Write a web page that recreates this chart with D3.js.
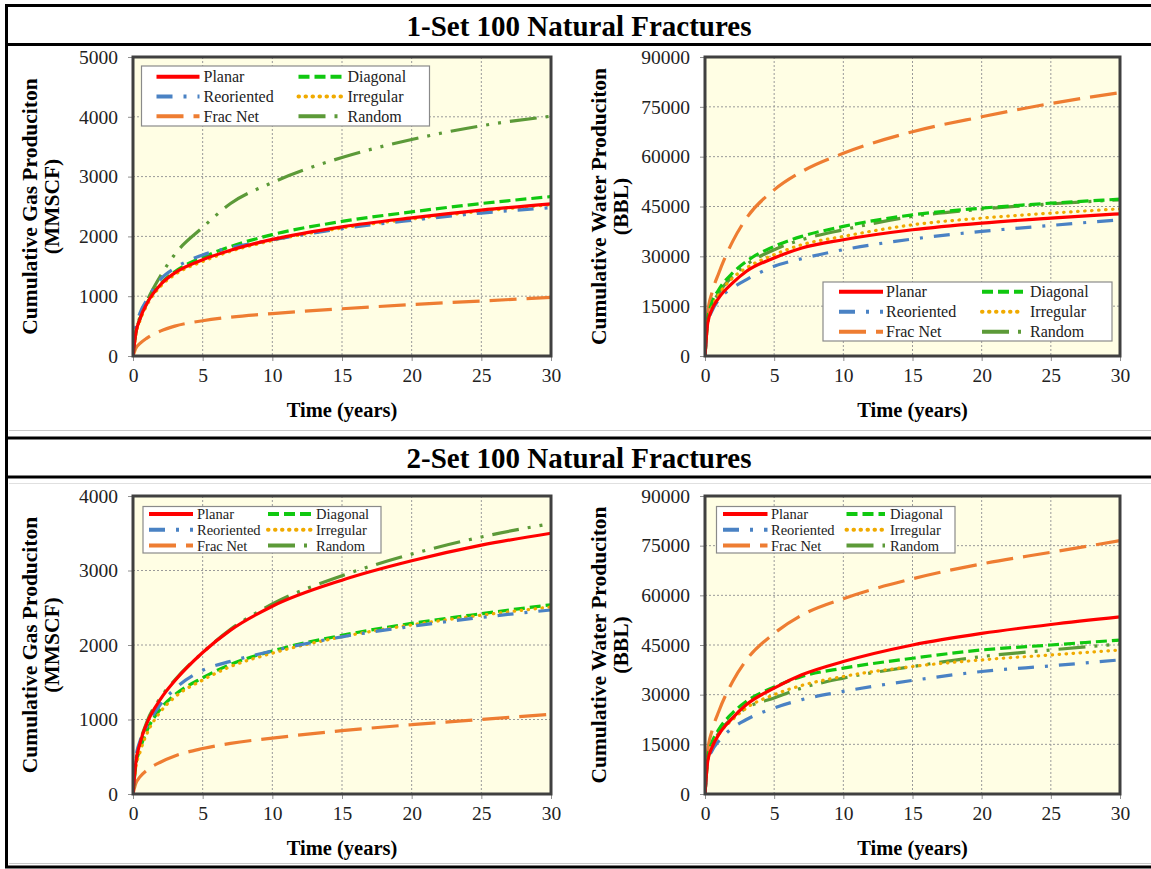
<!DOCTYPE html>
<html><head><meta charset="utf-8">
<script src="https://cdn.jsdelivr.net/npm/d3@7"></script>
<style>
body{margin:0;background:#fff;}
svg{display:block;}
svg text{font-family:"Liberation Serif","Times New Roman",serif;}
</style>
</head><body>
<svg id="c" width="1151" height="869"></svg>
<script>
// ---------- DATA ----------
const timeYears = [0, 0.2, 0.5, 1, 2, 3, 5, 7, 10, 15, 20, 25, 30];
const xTicks = [0, 5, 10, 15, 20, 25, 30];
const seriesNames = ["Planar", "Diagonal", "Reoriented", "Irregular", "Frac Net", "Random"];
const sectionTitles = ["1-Set 100 Natural Fractures", "2-Set 100 Natural Fractures"];
const gasTicks1 = [0, 1000, 2000, 3000, 4000, 5000];
const gasTicks2 = [0, 1000, 2000, 3000, 4000];
const waterTicks = [0, 15000, 30000, 45000, 60000, 75000, 90000];

// 1-Set gas (MMSCF)
const gas1Planar     = [0, 380, 620, 880, 1200, 1390, 1610, 1770, 1950, 2160, 2310, 2440, 2545];
const gas1Diagonal   = [0, 380, 620, 880, 1210, 1410, 1650, 1830, 2030, 2250, 2410, 2550, 2665];
const gas1Reoriented = [0, 470, 720, 940, 1290, 1470, 1690, 1810, 1940, 2130, 2270, 2390, 2480];
const gas1Irregular  = [0, 350, 590, 850, 1170, 1360, 1580, 1750, 1930, 2140, 2290, 2420, 2530];
const gas1FracNet    = [0, 130, 210, 300, 420, 500, 590, 650, 710, 790, 860, 920, 980];
const gas1Random     = [0, 400, 650, 920, 1350, 1700, 2150, 2550, 2900, 3320, 3620, 3850, 4010];

// 1-Set water (BBL)
const water1Planar     = [0, 10000, 14000, 17500, 22000, 25500, 29500, 32500, 35000, 38000, 40000, 41500, 42800];
const water1Diagonal   = [0, 11000, 16000, 20000, 25000, 28500, 33000, 36000, 39000, 42500, 44500, 46000, 47200];
const water1Reoriented = [0, 10000, 13500, 17000, 20500, 23000, 27000, 29300, 32000, 35200, 37500, 39300, 41000];
const water1Irregular  = [0, 10000, 14500, 18500, 23500, 26500, 30500, 33500, 36000, 39500, 41500, 43000, 44300];
const water1FracNet    = [0, 13000, 19000, 25000, 34500, 41500, 50000, 55500, 61000, 67500, 72000, 76000, 79300];
const water1Random     = [0, 10500, 15000, 19000, 24000, 27500, 32000, 35000, 38000, 42000, 44200, 45800, 47000];

// 2-Set gas (MMSCF)
const gas2Planar     = [0, 420, 680, 950, 1280, 1520, 1900, 2200, 2520, 2870, 3130, 3340, 3500];
const gas2Diagonal   = [0, 380, 600, 850, 1150, 1330, 1560, 1740, 1920, 2130, 2290, 2420, 2540];
const gas2Reoriented = [0, 480, 710, 910, 1210, 1410, 1660, 1780, 1920, 2110, 2250, 2370, 2470];
const gas2Irregular  = [0, 350, 560, 810, 1110, 1300, 1530, 1710, 1890, 2110, 2270, 2400, 2510];
const gas2FracNet    = [0, 140, 230, 320, 430, 510, 610, 680, 750, 850, 930, 1000, 1070];
const gas2Random     = [0, 430, 690, 970, 1300, 1530, 1900, 2210, 2550, 2930, 3220, 3450, 3630];

// 2-Set water (BBL)
const water2Planar     = [0, 10000, 14000, 18000, 23000, 27000, 32000, 36000, 40000, 45000, 48500, 51200, 53500];
const water2Diagonal   = [0, 11000, 15500, 19500, 24500, 28000, 32300, 35500, 38000, 41000, 43500, 45000, 46500];
const water2Reoriented = [0, 10000, 13000, 16000, 20000, 22500, 26000, 28500, 31000, 34300, 37000, 38700, 40500];
const water2Irregular  = [0, 10000, 14000, 18000, 22500, 26000, 30000, 32800, 35500, 38500, 40500, 42000, 43500];
const water2FracNet    = [0, 13000, 19000, 25000, 34000, 40500, 48500, 54000, 59000, 65000, 69500, 73000, 76500];
const water2Random     = [0, 10000, 14500, 18500, 23000, 26000, 29000, 32000, 35000, 38500, 41500, 43500, 45300];

// ---------- STYLES ----------
const FONT = "Liberation Serif, Times New Roman, serif";
const seriesColor = {"Planar":"#ff0000","Diagonal":"#10c810","Reoriented":"#4a82c4","Irregular":"#f0aa00","Frac Net":"#ee7d32","Random":"#5c9a38"};
const seriesDash  = {"Planar":null,"Diagonal":"11,5","Reoriented":"16,11,3,11","Irregular":"0.5,6.5","Frac Net":"27,10","Random":"27,9,3,9,3,9"};
const seriesWidth = {"Planar":3.2,"Diagonal":3.2,"Reoriented":3.2,"Irregular":3.2,"Frac Net":3.2,"Random":3.2};

const panels = [
  {series:[gas1Planar,gas1Diagonal,gas1Reoriented,gas1Irregular,gas1FracNet,gas1Random], ticks:gasTicks1,
   r:{x:133,y:57,w:418,h:299}, t1:"Cumulative Gas Produciton", t2:"(MMSCF)", t1x:29, t2x:51, xty:410,
   lg:{x:141.5,y:66,w:288,h:60,r0:10.7,rh:19.8,l1:[15,58],tx1:62,l2:[157,201],tx2:206,fs:16}},
  {series:[water1Planar,water1Diagonal,water1Reoriented,water1Irregular,water1FracNet,water1Random], ticks:waterTicks,
   r:{x:705,y:57,w:415,h:299}, t1:"Cumulative Water Produciton", t2:"(BBL)", t1x:598, t2x:620, xty:410,
   lg:{x:823,y:282,w:289,h:59,r0:9.7,rh:20,l1:[16,60],tx1:63,l2:[159,200],tx2:207,fs:16}},
  {series:[gas2Planar,gas2Diagonal,gas2Reoriented,gas2Irregular,gas2FracNet,gas2Random], ticks:gasTicks2,
   r:{x:133,y:496,w:418,h:298}, t1:"Cumulative Gas Produciton", t2:"(MMSCF)", t1x:29, t2x:51, xty:848,
   lg:{x:143,y:506.5,w:238,h:46.5,r0:7.5,rh:15.8,l1:[6,50],tx1:54,l2:[125,169],tx2:173,fs:14.5}},
  {series:[water2Planar,water2Diagonal,water2Reoriented,water2Irregular,water2FracNet,water2Random], ticks:waterTicks,
   r:{x:705,y:496,w:415,h:298}, t1:"Cumulative Water Produciton", t2:"(BBL)", t1x:598, t2x:620, xty:848,
   lg:{x:716.5,y:506.5,w:238.5,h:46.5,r0:7.5,rh:15.8,l1:[6.5,51],tx1:54.5,l2:[130,168.5],tx2:173.5,fs:14.5}}
];

const svg = d3.select("#c");

// ---------- FRAMES / TITLES ----------
const frame = svg.append("g");
frame.append("rect").attr("x",6.5).attr("y",5.5).attr("width",1160).attr("height",39)
  .attr("fill","#fff").attr("stroke","#000").attr("stroke-width",3);
frame.append("rect").attr("x",6.5).attr("y",438).attr("width",1160).attr("height",39)
  .attr("fill","#fff").attr("stroke","#000").attr("stroke-width",3);
frame.append("line").attr("x1",6.5).attr("x2",6.5).attr("y1",44).attr("y2",438).attr("stroke","#000").attr("stroke-width",3);
frame.append("line").attr("x1",6.5).attr("x2",6.5).attr("y1",477).attr("y2",868).attr("stroke","#000").attr("stroke-width",3);
frame.append("line").attr("x1",5).attr("x2",1151).attr("y1",867).attr("y2",867).attr("stroke","#000").attr("stroke-width",3);
frame.append("line").attr("x1",9).attr("x2",1151).attr("y1",430.5).attr("y2",430.5).attr("stroke","#c8c8c8").attr("stroke-width",1);
frame.append("line").attr("x1",9).attr("x2",1151).attr("y1",483.5).attr("y2",483.5).attr("stroke","#e0e0e0").attr("stroke-width",1);
frame.append("line").attr("x1",9).attr("x2",1151).attr("y1",863.5).attr("y2",863.5).attr("stroke","#c8c8c8").attr("stroke-width",1);
[[25.5, sectionTitles[0]],[458, sectionTitles[1]]].forEach(([y,t])=>{
  frame.append("text").attr("x",579).attr("y",y).attr("dy","0.35em").attr("text-anchor","middle")
    .attr("font-size",29).attr("font-weight","bold").attr("fill","#000").text(t);
});

// ---------- PANELS ----------
panels.forEach((p,pi)=>{
  const g = svg.append("g");
  const x = d3.scaleLinear().domain([0,30]).range([p.r.x, p.r.x+p.r.w]);
  const yMax = p.ticks[p.ticks.length-1];
  const y = d3.scaleLinear().domain([0,yMax]).range([p.r.y+p.r.h, p.r.y]);

  g.append("rect").attr("x",p.r.x).attr("y",p.r.y).attr("width",p.r.w).attr("height",p.r.h).attr("fill","#fffee4");

  // grid
  g.selectAll(".gx").data(xTicks.slice(1,-1)).join("line")
    .attr("x1",d=>x(d)).attr("x2",d=>x(d)).attr("y1",p.r.y).attr("y2",p.r.y+p.r.h)
    .attr("stroke","#9a9a9a").attr("stroke-width",1).attr("stroke-dasharray","2,2");
  g.selectAll(".gy").data(p.ticks.slice(1,-1)).join("line")
    .attr("y1",d=>y(d)).attr("y2",d=>y(d)).attr("x1",p.r.x).attr("x2",p.r.x+p.r.w)
    .attr("stroke","#9a9a9a").attr("stroke-width",1).attr("stroke-dasharray","2,2");

  // axes
  const ax = g.append("g").attr("transform",`translate(0,${p.r.y+p.r.h})`)
    .call(d3.axisBottom(x).tickValues(xTicks).tickSize(5).tickPadding(7).tickFormat(d3.format("d")));
  const ay = g.append("g").attr("transform",`translate(${p.r.x},0)`)
    .call(d3.axisLeft(y).tickValues(p.ticks).tickSize(5).tickPadding(10).tickFormat(d3.format("d")));
  [ax,ay].forEach(a=>{
    a.attr("font-family",FONT);
    a.select(".domain").remove();
    a.selectAll(".tick line").attr("stroke","#909090");
    a.selectAll(".tick text").attr("font-size",19.5).attr("fill","#222");
  });

  // clip
  const cid = "clip"+pi;
  g.append("clipPath").attr("id",cid).append("rect").attr("x",p.r.x).attr("y",p.r.y).attr("width",p.r.w).attr("height",p.r.h);

  const line = d3.line().x((d,i)=>x(timeYears[i])).y(d=>y(d)).curve(d3.curveMonotoneX);
  const order = [4,5,1,3,2,0];
  const lg = g.append("g").attr("clip-path",`url(#${cid})`);
  order.forEach(si=>{
    const name = seriesNames[si];
    lg.append("path").datum(p.series[si]).attr("d",line).attr("fill","none")
      .attr("stroke",seriesColor[name]).attr("stroke-width",seriesWidth[name])
      .attr("stroke-dasharray",seriesDash[name]).attr("stroke-linecap",name==="Irregular"?"round":"butt");
  });

  // frame
  g.append("rect").attr("x",p.r.x).attr("y",p.r.y).attr("width",p.r.w).attr("height",p.r.h)
    .attr("fill","none").attr("stroke","#404040").attr("stroke-width",3);

  // titles
  const cy = p.r.y+p.r.h/2;
  g.append("text").attr("transform",`translate(${p.t1x},${cy}) rotate(-90)`).attr("dy","0.35em").attr("text-anchor","middle")
    .attr("font-size",21.5).attr("font-weight","bold").attr("fill","#000").text(p.t1);
  g.append("text").attr("transform",`translate(${p.t2x},${cy}) rotate(-90)`).attr("dy","0.35em").attr("text-anchor","middle")
    .attr("font-size",21.5).attr("font-weight","bold").attr("fill","#000").text(p.t2);
  g.append("text").attr("x",p.r.x+p.r.w/2).attr("y",p.xty).attr("dy","0.35em").attr("text-anchor","middle")
    .attr("font-size",20.5).attr("font-weight","bold").attr("fill","#000").text("Time (years)");

  // legend
  const L = p.lg;
  const leg = g.append("g").attr("transform",`translate(${L.x},${L.y})`);
  leg.append("rect").attr("width",L.w).attr("height",L.h).attr("fill","#fff").attr("stroke","#8a8a8a").attr("stroke-width",1.2);
  seriesNames.forEach((name,i)=>{
    const col = i%2, row = Math.floor(i/2);
    const ly = L.r0 + row*L.rh;
    const lx = col===0 ? L.l1 : L.l2;
    const tx = col===0 ? L.tx1 : L.tx2;
    leg.append("line").attr("x1",lx[0]).attr("x2",lx[1]).attr("y1",ly).attr("y2",ly)
      .attr("stroke",seriesColor[name]).attr("stroke-width",4)
      .attr("stroke-dasharray",seriesDash[name]).attr("stroke-linecap",name==="Irregular"?"round":"butt");
    leg.append("text").attr("x",tx).attr("y",ly).attr("dy","0.35em").attr("font-size",L.fs).attr("fill","#222").text(name);
  });
});
svg.selectAll("text").attr("font-family",FONT);
</script>
</body></html>
